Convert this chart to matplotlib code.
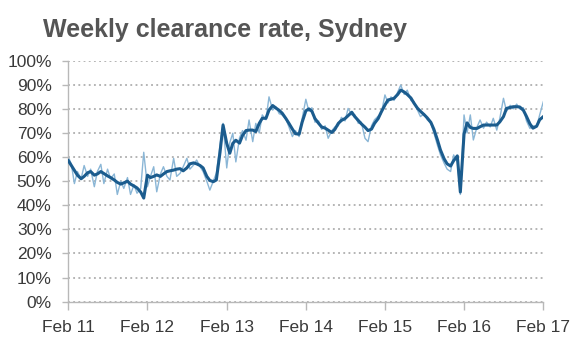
"""Weekly clearance rate, Sydney - recreated with matplotlib."""

import matplotlib
matplotlib.use("Agg")
import matplotlib.pyplot as plt
from matplotlib.ticker import FuncFormatter
import pandas as pd

# semi-monthly observations, Feb 2011 .. Feb 2017 (145 points)
START = "2011-02-01"
N_POINTS = 145

weekly_rate = [
    60, 57, 49, 54, 51, 56.5, 52, 55, 47.7, 54,
    57, 49, 55, 51, 53, 44.5, 50, 47, 51.5, 44.5,
    48.5, 45, 47, 62, 47.7, 52, 56, 45.6, 53, 56,
    52, 50.5, 59.5, 52, 53.3, 56, 59.5, 55, 56.7, 58.8,
    56, 54, 50, 46.3, 50, 53.3, 65, 74, 55.5, 66,
    69.9, 58, 68, 71, 67, 75.4, 66.4, 74, 70, 77.5,
    75.5, 85, 79.5, 81, 78, 77.5, 75.8, 72.5, 68.5, 71,
    68.5, 76, 84, 79, 80.5, 74.5, 75, 71.5, 73, 67.8,
    71, 72.5, 73, 76.5, 75, 80.2, 77.5, 77.5, 74, 74.5,
    67.8, 66.4, 73, 75.5, 77, 78, 85.8, 82.5, 85, 83.5,
    87, 89.9, 86, 87.8, 83.5, 83, 79.5, 76.8, 78, 75.5,
    74, 70, 65, 61, 57.5, 55, 54, 60.9, 58, 44.5,
    77.5, 70, 77.5, 67.1, 72.5, 75.4, 72, 74.5, 72.5, 76.1,
    71.2, 76, 84.4, 79, 81.5, 80, 82, 80, 80.5, 75,
    71.9, 73, 72.6, 77.5, 83,
]

smoothed_rate = [
    58.5, 56.5, 54.5, 52.5, 51, 52, 53.5, 54, 52.5, 53,
    54, 53.2, 52.2, 51.5, 50.5, 49.5, 48.8, 49.3, 50, 48.8,
    48, 47.2, 45.5, 43, 52.5, 51.5, 52, 52.6, 52, 53,
    54, 54.3, 54.6, 55, 55.2, 54.3, 55.5, 57.2, 57.6, 57.2,
    56.5, 55.5, 52, 50.3, 49.8, 50.5, 62, 73.3, 65.7, 61.6,
    65.7, 67, 65.8, 69, 71, 71.2, 71.2, 70.6, 74, 76.1,
    76.1, 79.5, 81.4, 80.4, 79.4, 78.2, 76, 74, 71.6, 69.7,
    69.5, 74.5, 79.2, 80, 79, 76, 74, 72.5, 72, 71.2,
    70.2, 71.5, 74, 75.2, 76, 77.2, 78.6, 76.8, 75.2, 73.8,
    72.4, 71, 71.6, 74, 76, 78.7, 81.6, 83.7, 84, 84.4,
    86, 87.8, 87, 86, 84.5, 82.4, 80.3, 79, 77.6, 76.3,
    74.4, 71.5, 67.2, 63, 59.3, 57.2, 56.3, 58.5, 60.5, 45.5,
    69.5, 74.2, 72.3, 71.9, 71.9, 72.6, 73.3, 73.3, 73.3, 73.3,
    73.3, 74.6, 76.8, 80.2, 80.6, 80.9, 80.9, 80.8, 79.4, 76.9,
    73.8, 72, 72.8, 75.5, 76.8,
]

year_ticks = ["2011-02-01", "2012-02-01", "2013-02-01", "2014-02-01",
              "2015-02-01", "2016-02-01", "2017-02-01"]
year_labels = ["Feb 11", "Feb 12", "Feb 13", "Feb 14", "Feb 15", "Feb 16", "Feb 17"]

dates = pd.date_range(START, periods=N_POINTS, freq="SMS")

plt.rcParams["font.family"] = ["Liberation Sans", "DejaVu Sans"]

fig = plt.figure(figsize=(5.8, 3.52), dpi=100)
ax = fig.add_axes([0.1178, 0.1429, 0.819, 0.6847])

ax.plot(dates, weekly_rate, color="#8ab6d6", linewidth=1.0, zorder=2)
ax.plot(dates, smoothed_rate, color="#1b5c8e", linewidth=2.2, zorder=3)

ax.set_ylim(0, 100)
ax.set_yticks(range(0, 101, 10))
ax.yaxis.set_major_formatter(FuncFormatter(lambda v, _: f"{v:.0f}%"))
ax.set_xlim(pd.Timestamp(year_ticks[0]), pd.Timestamp(year_ticks[-1]))
ax.set_xticks(pd.to_datetime(year_ticks))
ax.set_xticklabels(year_labels)

ax.grid(axis="y", color="#a0a0a0", linestyle=(0, (1.2, 2.2)), linewidth=1.1)
ax.set_axisbelow(True)
for side in ("top", "right"):
    ax.spines[side].set_visible(False)
for side in ("left", "bottom"):
    ax.spines[side].set_color("#b8b8b8")
    ax.spines[side].set_linewidth(1.0)

ax.tick_params(axis="y", length=4, width=1, color="#b8b8b8", pad=8,
               labelsize=12.5, labelcolor="#3a3a3a")
ax.tick_params(axis="x", length=6, width=1, color="#b8b8b8", pad=7,
               labelsize=12.5, labelcolor="#3a3a3a")

fig.text(0.074, 0.915, "Weekly clearance rate, Sydney", fontsize=18,
         fontweight="bold", color="#555555", ha="left", va="center")

fig.savefig("out.png", dpi=100)
